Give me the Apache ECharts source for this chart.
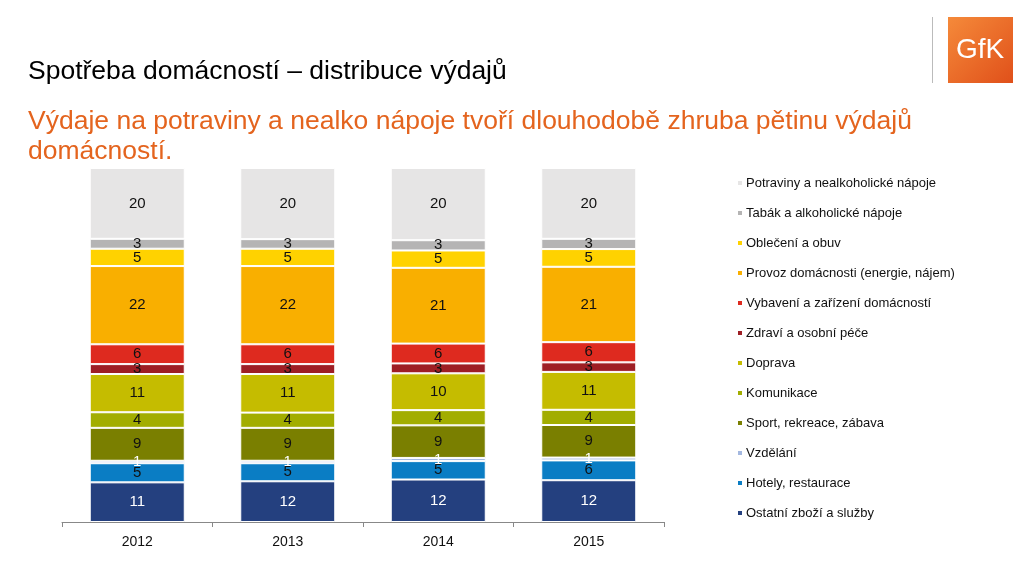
<!DOCTYPE html>
<html><head><meta charset="utf-8">
<script src="https://cdn.jsdelivr.net/npm/echarts@6/dist/echarts.min.js"></script>
<style>html,body{margin:0;padding:0;background:#fff}#c{width:1036px;height:563px}</style>
</head><body><div id="c"></div>
<script>
const years = ['2012','2013','2014','2015'];
// bottom to top (values in %; labels show rounded values)
const seriesNames = ['Ostatní zboží a služby','Hotely, restaurace','Vzdělání','Sport, rekreace, zábava','Komunikace','Doprava','Zdraví a osobní péče','Vybavení a zařízení domácností','Provoz domácnosti (energie, nájem)','Oblečení a obuv','Tabák a alkoholické nápoje','Potraviny a nealkoholické nápoje'];
const ostatni = [11.2,11.5,12.0,11.8];
const hotely = [5.4,5.1,5.2,5.6];
const vzdelani = [0.7,0.7,0.9,0.8];
const sport = [9.3,9.3,9.2,9.2];
const komunikace = [4.4,4.3,4.3,4.3];
const doprava = [10.8,10.9,10.4,10.7];
const zdravi = [2.8,2.8,2.8,2.7];
const vybaveni = [5.6,5.6,5.6,5.7];
const provoz = [22.1,22.1,21.4,21.3];
const obleceni = [4.9,4.9,4.9,5.0];
const tabak = [2.8,2.7,2.9,2.9];
const potraviny = [20.0,20.1,20.4,20.0];
const values = [ostatni,hotely,vzdelani,sport,komunikace,doprava,zdravi,vybaveni,provoz,obleceni,tabak,potraviny];
const colors = ['#24407F','#0A7DC4','#A4B8E0','#7A7F00','#A2AD00','#C5BC00','#9E1E24','#DE2A1F','#F9AF00','#FFD200','#B5B4B4','#E6E5E5'];
const labelColors = ['#fff','#111','#fff','#111','#111','#111','#111','#111','#111','#111','#111','#111'];

const chart = echarts.init(document.getElementById('c'));
const font = 'Liberation Sans, Arial, sans-serif';
chart.setOption({
  animation:false,
  textStyle:{fontFamily:font},
  graphic:[
    {type:'text',left:28,top:58,style:{text:'Spotřeba domácností – distribuce výdajů',fontSize:26.5,fill:'#000',fontFamily:font}},
    {type:'text',left:28,top:107,style:{text:'Výdaje na potraviny a nealko nápoje tvoří dlouhodobě zhruba pětinu výdajů\ndomácností.',fontSize:26.5,lineHeight:30,fill:'#E4641E',fontFamily:font}},
    {type:'rect',shape:{x:932,y:17,width:1,height:66},style:{fill:'#BBBBBB'}},
    {type:'rect',shape:{x:948,y:17,width:65,height:66},style:{fill:new echarts.graphic.LinearGradient(0,0,1,1,[{offset:0,color:'#F58A3A'},{offset:1,color:'#E0501A'}])}},
    {type:'text',x:980,y:50,style:{text:'GfK',fontSize:28,fill:'#fff',fontFamily:font,align:'center',verticalAlign:'middle'}}
  ],
  legend:{
    orient:'vertical',left:736,top:176,padding:0,itemWidth:6,itemHeight:6,itemGap:16,
    icon:'rect',
    data:seriesNames.slice().reverse(),
    textStyle:{fontSize:13,color:'#111',lineHeight:14,padding:[0,0,0,-2]}
  },
  grid:{left:62,right:372,top:168,bottom:41},
  xAxis:{type:'category',data:years,
    axisLine:{lineStyle:{color:'#888'}},
    axisTick:{show:true,length:5,lineStyle:{color:'#888'}},
    axisLabel:{fontSize:14,color:'#111',margin:13}},
  yAxis:{type:'value',min:0,max:100,show:false,splitLine:{show:false}},
  series:seriesNames.map((n,i)=>({
    name:n,type:'bar',stack:'a',barWidth:95,data:values[i],
    itemStyle:{color:colors[i],borderColor:'#fff',borderWidth:1},
    label:{show:true,position:'inside',fontSize:15,color:labelColors[i],fontFamily:font,
      formatter:p=>String(Math.round(p.value))}
  }))
});
</script></body></html>
